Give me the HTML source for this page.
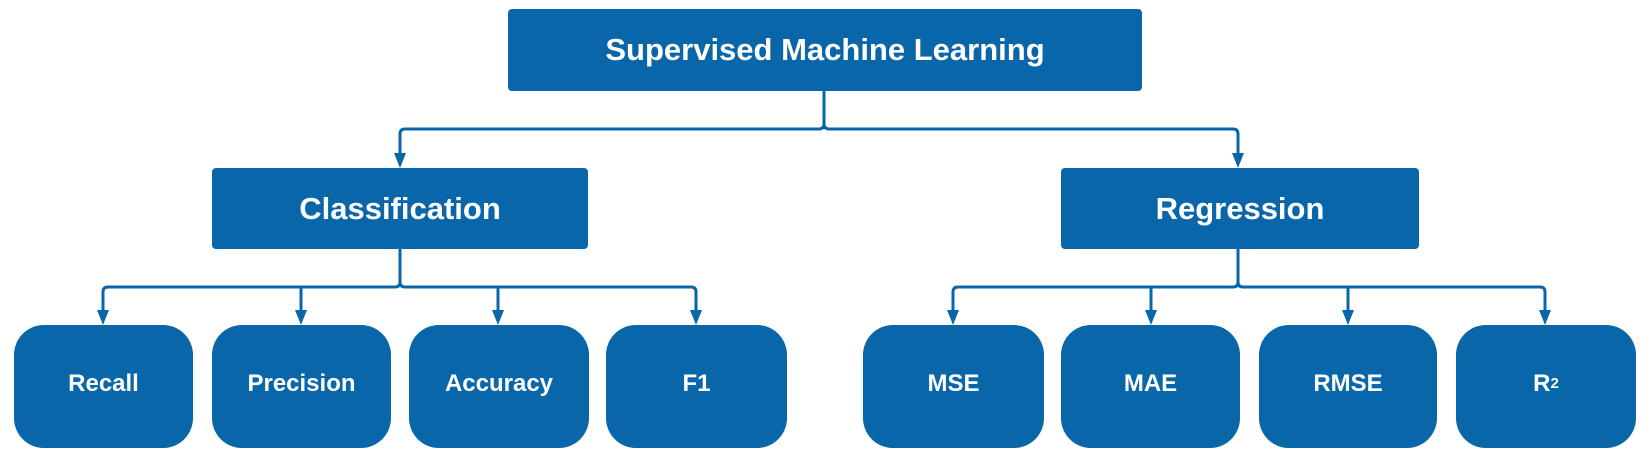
<!DOCTYPE html>
<html><head><meta charset="utf-8"><style>
html,body{margin:0;padding:0;background:#fff;}
body{width:1650px;height:460px;position:relative;overflow:hidden;font-family:"Liberation Sans",Arial,sans-serif;}
.b{position:absolute;background:#0866a9;color:#fff;font-weight:bold;display:flex;align-items:center;justify-content:center;}
.h{border-radius:4px;font-size:31px;}
.l{border-radius:30px;font-size:24px;top:325px;height:123px;padding-bottom:6px;box-sizing:border-box;}
svg{position:absolute;left:0;top:0;}
</style></head><body>
<svg width="1650" height="460" viewBox="0 0 1650 460">
<g fill="none" stroke="#0866a9" stroke-width="3" stroke-linejoin="round">
<path d="M824 91 V124 Q824 129 819 129 H405 Q400 129 400 134 V155"/>
<path d="M824 124 Q824 129 829 129 H1233 Q1238 129 1238 134 V155"/>
<path d="M400 249 V282 Q400 287 395 287 H108 Q103 287 103 292 V312"/>
<path d="M400 282 Q400 287 405 287 H691 Q696 287 696 292 V312"/>
<path d="M301 287 V312 M498 287 V312"/>
<path d="M1238 249 V282 Q1238 287 1233 287 H958 Q953 287 953 292 V312"/>
<path d="M1238 282 Q1238 287 1243 287 H1540 Q1545 287 1545 292 V312"/>
<path d="M1151 287 V312 M1348 287 V312"/>
</g>
<g fill="#0866a9">
<polygon points="394,153 406,153 400,168"/>
<polygon points="1232,153 1244,153 1238,168"/>
<polygon points="97,310 109,310 103,325"/>
<polygon points="295,310 307,310 301,325"/>
<polygon points="492,310 504,310 498,325"/>
<polygon points="690,310 702,310 696,325"/>
<polygon points="947,310 959,310 953,325"/>
<polygon points="1145,310 1157,310 1151,325"/>
<polygon points="1342,310 1354,310 1348,325"/>
<polygon points="1539,310 1551,310 1545,325"/>
</g>
</svg>
<div class="b h" style="left:508px;top:9px;width:634px;height:82px;">Supervised Machine Learning</div>
<div class="b h" style="left:212px;top:168px;width:376px;height:81px;">Classification</div>
<div class="b h" style="left:1061px;top:168px;width:358px;height:81px;">Regression</div>
<div class="b l" style="left:14px;width:179px;">Recall</div>
<div class="b l" style="left:212px;width:179px;">Precision</div>
<div class="b l" style="left:409px;width:180px;">Accuracy</div>
<div class="b l" style="left:606px;width:181px;">F1</div>
<div class="b l" style="left:863px;width:181px;">MSE</div>
<div class="b l" style="left:1061px;width:179px;">MAE</div>
<div class="b l" style="left:1259px;width:178px;">RMSE</div>
<div class="b l" style="left:1456px;width:180px;">R<sup style="font-size:15px;vertical-align:11px;">2</sup></div>
</body></html>
